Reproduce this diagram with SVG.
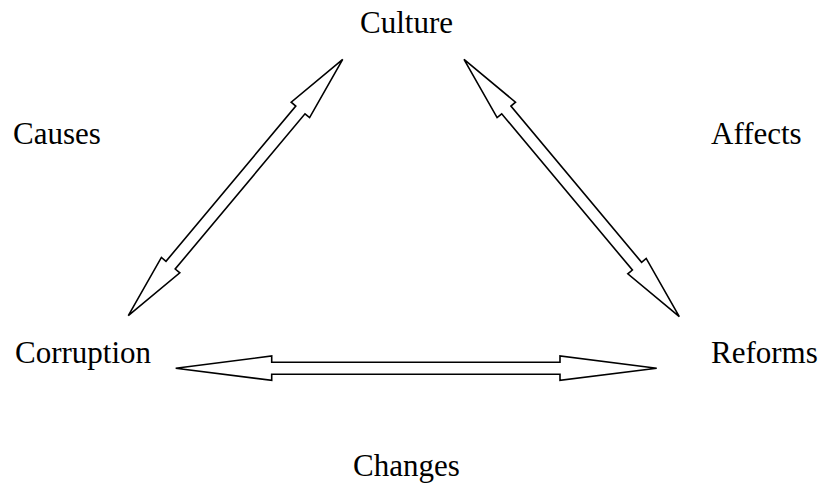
<svg xmlns="http://www.w3.org/2000/svg" width="821" height="483" viewBox="0 0 821 483">
<style>
.lbl{font-family:"Liberation Serif","Times New Roman",serif;font-size:31px;fill:#000}
.arr{fill:#fff;stroke:#000;stroke-width:1.6;stroke-linejoin:miter}
</style>
<rect width="821" height="483" fill="#fff"/>
<g id="connectors">
<polygon class="arr" points="128.3,315.7 161.4,257.4 166.0,261.3 295.8,106.1 291.2,102.2 342.7,59.3 309.6,117.6 305.0,113.8 175.2,269.0 179.8,272.8"/>
<polygon class="arr" points="464,59.3 515.5,102.2 510.9,106.1 641.6,262.3 646.2,258.4 679.3,316.7 627.8,273.8 632.4,270.0 501.7,113.8 497.1,117.6"/>
<polygon class="arr" points="175.7,368.2 271.7,356 271.7,362.2 560,362.2 560,356 656.7,368.2 560,380.4 560,374.2 271.7,374.2 271.7,380.4"/>
</g>
<g id="culture"><text class="lbl" x="360" y="33">Culture</text></g>
<g id="causes"><text class="lbl" x="13" y="144">Causes</text></g>
<g id="affects"><text class="lbl" x="711" y="144">Affects</text></g>
<g id="corruption"><text class="lbl" x="15" y="363">Corruption</text></g>
<g id="reforms"><text class="lbl" x="711" y="363">Reforms</text></g>
<g id="changes"><text class="lbl" x="353" y="476">Changes</text></g>
</svg>
